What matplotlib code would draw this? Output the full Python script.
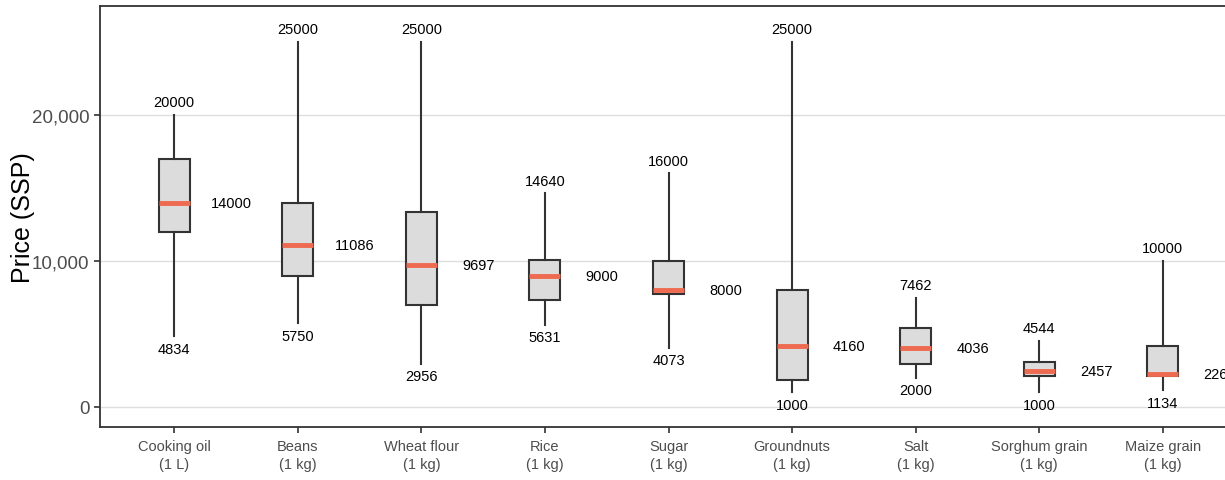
import matplotlib
matplotlib.use("Agg")
import matplotlib.pyplot as plt
from matplotlib.ticker import FuncFormatter

# commodity price summary (SSP)
items = ["Cooking oil\n(1 L)", "Beans\n(1 kg)", "Wheat flour\n(1 kg)", "Rice\n(1 kg)",
         "Sugar\n(1 kg)", "Groundnuts\n(1 kg)", "Salt\n(1 kg)", "Sorghum grain\n(1 kg)",
         "Maize grain\n(1 kg)"]
p_min = [4834, 5750, 2956, 5631, 4073, 1000, 2000, 1000, 1134]
p_q1 = [12000, 9000, 7000, 7300, 7750, 1850, 2950, 2120, 2100]
p_med = [14000, 11086, 9697, 9000, 8000, 4160, 4036, 2457, 2268]
p_q3 = [17000, 14000, 13333, 10050, 10000, 8000, 5380, 3050, 4200]
p_max = [20000, 25000, 25000, 14640, 16000, 25000, 7462, 4544, 10000]

plt.rcParams["font.family"] = ["Liberation Sans", "DejaVu Sans"]

fig = plt.figure(figsize=(12.25, 4.81), dpi=100)
ax = fig.add_axes([100 / 1225, 53 / 481, 1137 / 1225, 421 / 481])

stats = []
for i in range(len(items)):
    stats.append(dict(whislo=p_min[i], q1=p_q1[i], med=p_med[i], q3=p_q3[i],
                      whishi=p_max[i], fliers=[]))

pos = list(range(1, len(items) + 1))
ax.bxp(stats, positions=pos, widths=0.25, patch_artist=True, showcaps=False,
       boxprops=dict(facecolor="#DCDCDC", edgecolor="#333333", linewidth=1.5),
       whiskerprops=dict(color="#333333", linewidth=1.5),
       medianprops=dict(color="#EE6A50", linewidth=3.5, solid_capstyle="butt"),
       zorder=3)

for i, x in enumerate(pos):
    ax.annotate(str(p_max[i]), (x, p_max[i]), xytext=(0, 4), textcoords="offset points",
                ha="center", va="bottom", fontsize=10.5, color="black")
    ax.annotate(str(p_min[i]), (x, p_min[i]), xytext=(0, -4), textcoords="offset points",
                ha="center", va="top", fontsize=10.5, color="black")
    ax.annotate(str(p_med[i]), (x + 0.46, p_med[i]), ha="center", va="center",
                fontsize=10.5, color="black", annotation_clip=False)

ax.set_xlim(0.4, 9.6)
ax.set_ylim(-1370, 27466)
ax.set_yticks([0, 10000, 20000])
ax.yaxis.set_major_formatter(FuncFormatter(lambda v, p: "{:,.0f}".format(v)))
ax.set_xticks(pos)
ax.set_xticklabels(items, fontsize=10.5, color="#4D4D4D", linespacing=1.35)
ax.tick_params(axis="y", labelsize=13.5, labelcolor="#4D4D4D", length=4, width=1.2, color="#333333")
ax.tick_params(axis="x", length=4, width=1.2, color="#333333", pad=5)
ax.grid(axis="y", color="#DEDEDE", linewidth=1, zorder=0)
ax.set_axisbelow(True)
for s in ax.spines.values():
    s.set_color("#333333")
    s.set_linewidth(1.3)

ax.set_ylabel("Price (SSP)", fontsize=18)
ax.yaxis.set_label_coords(-0.057, 0.5)

fig.savefig("out.png", dpi=100)
